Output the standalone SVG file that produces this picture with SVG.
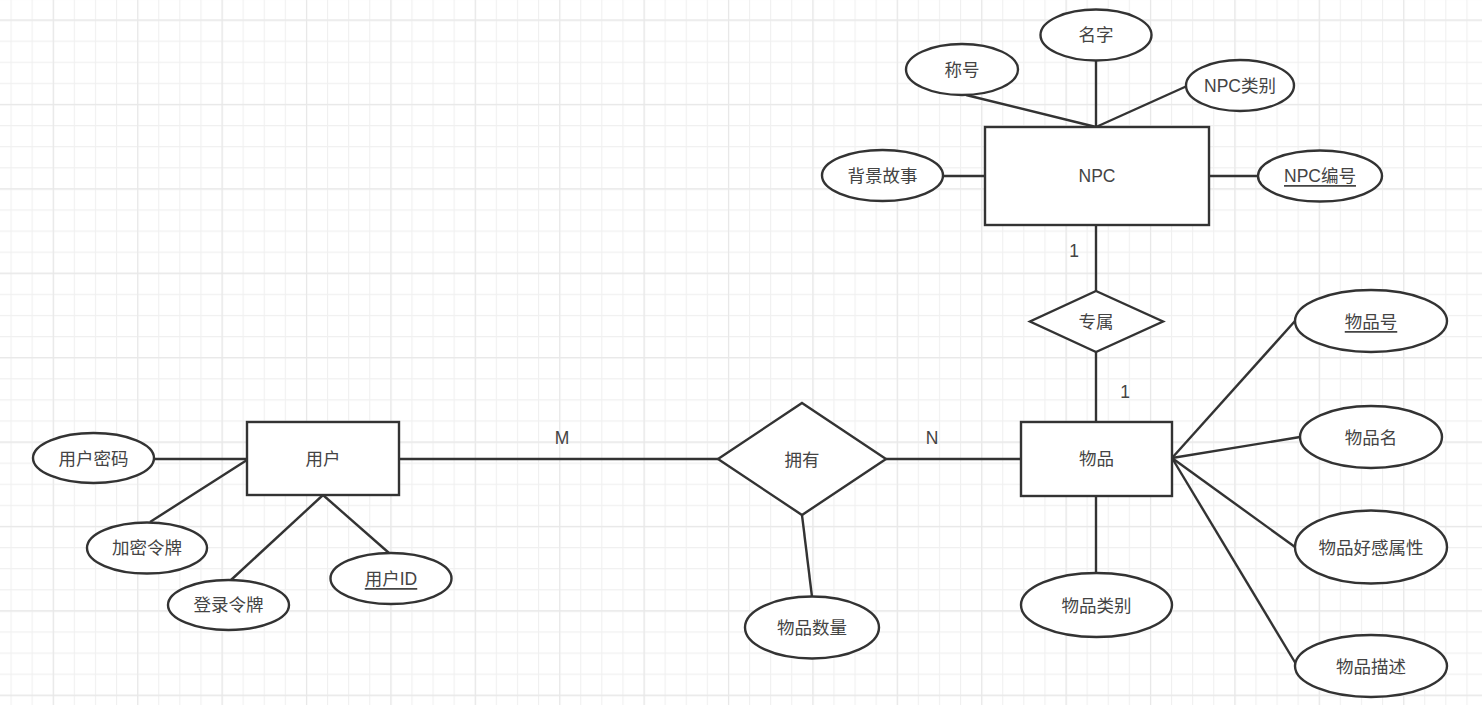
<svg xmlns="http://www.w3.org/2000/svg" width="1482" height="705" viewBox="0 0 1482 705">
<style>
.s{fill:#fff;stroke:#333;stroke-width:2.4}
.c line{stroke:#333;stroke-width:2.4}
text{font-family:"Liberation Sans","Noto Sans CJK SC",sans-serif;font-size:17.5px;fill:#444;text-anchor:middle;dominant-baseline:central}
.u{text-decoration:underline}
</style>
<defs>
<pattern id="gm" x="10.5" y="19.5" width="21.1" height="21.1" patternUnits="userSpaceOnUse">
<path d="M0.5 0V21.1M0 0.5H21.1" stroke="#f0f0f0" stroke-width="1.2" fill="none"/>
</pattern>
<pattern id="gM" x="52.8" y="19.5" width="84.4" height="84.4" patternUnits="userSpaceOnUse">
<path d="M0.5 0V84.4M0 0.5H84.4" stroke="#e8e8e8" stroke-width="1.4" fill="none"/>
</pattern>
</defs>
<rect width="1482" height="705" fill="#fff"/>
<rect width="1482" height="705" fill="url(#gm)"/>
<rect width="1482" height="705" fill="url(#gM)"/>

<g id="connectors" class="c">
<line x1="966" y1="95" x2="1096" y2="127"/>
<line x1="1096" y1="60" x2="1096" y2="127"/>
<line x1="1187" y1="86" x2="1096" y2="127"/>
<line x1="943" y1="176" x2="985" y2="176"/>
<line x1="1209" y1="176" x2="1258" y2="176"/>
<line x1="1096" y1="225" x2="1096" y2="291"/>
<line x1="1096" y1="352" x2="1096" y2="422"/>
<line x1="886" y1="459" x2="1021" y2="459"/>
<line x1="399" y1="459" x2="718" y2="459"/>
<line x1="802" y1="515" x2="812" y2="597"/>
<line x1="1096" y1="496" x2="1096" y2="573"/>
<line x1="1172" y1="458" x2="1295" y2="321"/>
<line x1="1172" y1="458" x2="1300" y2="437"/>
<line x1="1172" y1="458" x2="1295" y2="547"/>
<line x1="1172" y1="458" x2="1296" y2="664"/>
<line x1="155" y1="459" x2="247" y2="459"/>
<line x1="150" y1="522" x2="247" y2="460"/>
<line x1="231" y1="580" x2="323" y2="495"/>
<line x1="323" y1="495" x2="389" y2="553"/>
</g>

<g id="labels">
<text x="1074" y="251">1</text>
<text x="1125" y="392">1</text>
<text x="932" y="438">N</text>
<text x="562" y="438">M</text>
</g>

<g id="npc"><rect class="s" x="985" y="127" width="224" height="98"/><text x="1097" y="176">NPC</text></g>
<g id="npc-name"><ellipse class="s" cx="1096" cy="35" rx="55.5" ry="25.5"/><text x="1096" y="35">名字</text></g>
<g id="npc-title"><ellipse class="s" cx="962" cy="69.5" rx="56" ry="25.5"/><text x="962" y="70">称号</text></g>
<g id="npc-type"><ellipse class="s" cx="1240" cy="85.5" rx="54" ry="25.5"/><text x="1240" y="86">NPC类别</text></g>
<g id="npc-story"><ellipse class="s" cx="882.5" cy="175.5" rx="60.5" ry="25.5"/><text x="882.5" y="176">背景故事</text></g>
<g id="npc-id"><ellipse class="s" cx="1320" cy="176" rx="62" ry="25.5"/><text class="u" x="1320" y="176">NPC编号</text></g>

<g id="belong"><polygon class="s" points="1096,291 1163,321.5 1096,352 1030,321.5"/><text x="1096" y="322">专属</text></g>

<g id="item"><rect class="s" x="1021" y="422" width="151" height="74"/><text x="1096.5" y="459">物品</text></g>
<g id="own"><polygon class="s" points="802,403 886,459 802,515 718,459"/><text x="802" y="460">拥有</text></g>
<g id="own-qty"><ellipse class="s" cx="812" cy="627.5" rx="67" ry="31"/><text x="812" y="628">物品数量</text></g>
<g id="item-type"><ellipse class="s" cx="1096.5" cy="605" rx="75.5" ry="32"/><text x="1096.5" y="606">物品类别</text></g>
<g id="item-id"><ellipse class="s" cx="1371" cy="321" rx="76" ry="31"/><text class="u" x="1371" y="322">物品号</text></g>
<g id="item-name"><ellipse class="s" cx="1371" cy="437" rx="71" ry="31"/><text x="1371" y="438">物品名</text></g>
<g id="item-fav"><ellipse class="s" cx="1371" cy="547" rx="76" ry="36.5"/><text x="1371" y="548">物品好感属性</text></g>
<g id="item-desc"><ellipse class="s" cx="1371" cy="666" rx="76" ry="31"/><text x="1371" y="667">物品描述</text></g>

<g id="user"><rect class="s" x="247" y="422" width="152" height="73"/><text x="323" y="459">用户</text></g>
<g id="user-pwd"><ellipse class="s" cx="93.5" cy="458" rx="60.5" ry="25"/><text x="93.5" y="459">用户密码</text></g>
<g id="user-enc"><ellipse class="s" cx="147" cy="548" rx="60" ry="25.5"/><text x="147" y="548">加密令牌</text></g>
<g id="user-login"><ellipse class="s" cx="228.5" cy="605" rx="60.5" ry="25"/><text x="228.5" y="605">登录令牌</text></g>
<g id="user-id"><ellipse class="s" cx="391" cy="578.5" rx="60.5" ry="25.5"/><text class="u" x="391" y="579">用户ID</text></g>
</svg>
